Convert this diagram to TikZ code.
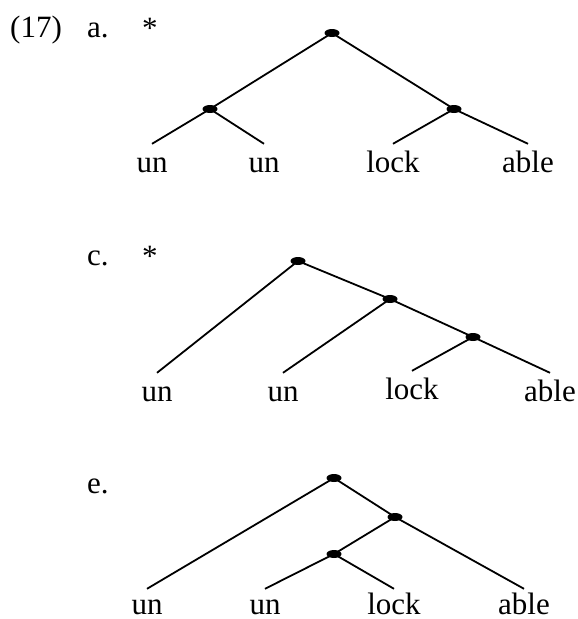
\documentclass[tikz,border=0pt]{standalone}
\usepackage{fontspec}
\setmainfont{Liberation Serif}
\usetikzlibrary{shapes.geometric}
\begin{document}
\begin{tikzpicture}[x=1pt,y=-1pt,
  dot/.style={ellipse,fill=black,inner sep=0pt,minimum width=15pt,minimum height=8pt},
  leaf/.style={anchor=base,inner sep=0pt,text height=28pt,font=\fontsize{31}{36}\selectfont},
  lowleaf/.style={leaf,text height=25pt},
  lbl/.style={anchor=base west,inner sep=0pt,font=\fontsize{31}{36}\selectfont},
  edge/.style={line width=1.8pt}]
\useasboundingbox (0,0) rectangle (578,619);
% labels
\node[lbl] (num) at (10,37) {(17)};
\node[lbl] (la) at (87,37) {a.};
\node[lbl] (sa) at (142,38) {*};
\node[lbl] (lc) at (87,265) {c.};
\node[lbl] (sc) at (142,266) {*};
\node[lbl] (le) at (87,493) {e.};
% tree a
\node[dot] (ar) at (332,33) {};
\node[dot] (al) at (210,109) {};
\node[dot] (arr) at (454,109) {};
\node[leaf] (a1) at (152,172) {un};
\node[leaf] (a2) at (264,172) {un};
\node[leaf] (a3) at (393,172) {lock};
\node[leaf] (a4) at (528,172) {able};
\draw[edge] (ar.center) -- (al.center);
\draw[edge] (ar.center) -- (arr.center);
\draw[edge] (al.center) -- (a1.north);
\draw[edge] (al.center) -- (a2.north);
\draw[edge] (arr.center) -- (a3.north);
\draw[edge] (arr.center) -- (a4.north);
% tree c
\node[dot] (cr) at (298,261) {};
\node[dot] (cm) at (390,299) {};
\node[dot] (cl) at (473,337) {};
\node[leaf] (c1) at (157,401) {un};
\node[leaf] (c2) at (283,401) {un};
\node[leaf] (c3) at (412,399) {lock};
\node[leaf] (c4) at (550,401) {able};
\draw[edge] (cr.center) -- (c1.north);
\draw[edge] (cr.center) -- (cm.center);
\draw[edge] (cm.center) -- (c2.north);
\draw[edge] (cm.center) -- (cl.center);
\draw[edge] (cl.center) -- (c3.north);
\draw[edge] (cl.center) -- (c4.north);
% tree e
\node[dot] (er) at (334,478) {};
\node[dot] (em) at (395,517) {};
\node[dot] (el) at (334,554) {};
\node[lowleaf] (e1) at (147,614) {un};
\node[lowleaf] (e2) at (265,614) {un};
\node[lowleaf] (e3) at (394,614) {lock};
\node[lowleaf] (e4) at (524,614) {able};
\draw[edge] (er.center) -- (e1.north);
\draw[edge] (er.center) -- (em.center);
\draw[edge] (em.center) -- (el.center);
\draw[edge] (em.center) -- (e4.north);
\draw[edge] (el.center) -- (e2.north);
\draw[edge] (el.center) -- (e3.north);
\end{tikzpicture}
\end{document}
